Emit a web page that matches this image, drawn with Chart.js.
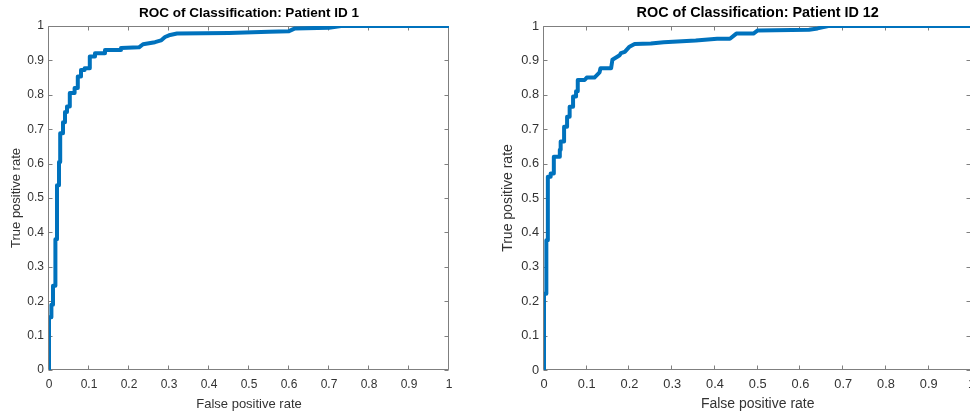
<!DOCTYPE html>
<html>
<head>
<meta charset="utf-8">
<script src="https://cdn.jsdelivr.net/npm/chart.js@4/dist/chart.umd.min.js"></script>
<style>
  html, body { margin: 0; padding: 0; background: #fff; overflow: hidden; width: 970px; height: 413px; }
  canvas { position: absolute; top: 0; }
  #roc1 { left: 0; }
  #roc2 { left: 490px; }
</style>
</head>
<body>
<canvas id="roc1" width="498" height="413"></canvas>
<canvas id="roc2" width="492" height="413"></canvas>
<script>
// ROC curve, patient 1 (vertices of the stepped curve)
const fpr1 = [0, 0, 0.006, 0.006, 0.01, 0.01, 0.016, 0.016, 0.02, 0.02, 0.025, 0.025, 0.028, 0.028,
  0.035, 0.035, 0.04, 0.04, 0.045, 0.045, 0.052, 0.052, 0.064, 0.064, 0.072, 0.072, 0.08, 0.08,
  0.089, 0.089, 0.102, 0.102, 0.115, 0.115, 0.14, 0.14, 0.18, 0.18, 0.225, 0.235, 0.25, 0.265,
  0.28, 0.29, 0.3, 0.32, 0.45, 0.55, 0.6, 0.615, 0.7, 0.73, 1];
const tpr1 = [0, 0.153, 0.153, 0.19, 0.19, 0.245, 0.245, 0.38, 0.38, 0.537, 0.537, 0.605, 0.605, 0.688,
  0.688, 0.72, 0.72, 0.75, 0.75, 0.766, 0.766, 0.805, 0.805, 0.82, 0.82, 0.853, 0.853, 0.872,
  0.872, 0.877, 0.877, 0.911, 0.911, 0.921, 0.921, 0.93, 0.93, 0.936, 0.938, 0.947, 0.95, 0.953,
  0.958, 0.968, 0.973, 0.978, 0.98, 0.983, 0.985, 0.993, 0.995, 1, 1];

// ROC curve, patient 12
const fpr2 = [0, 0, 0.0055, 0.0055, 0.009, 0.009, 0.0156, 0.0156, 0.023, 0.023, 0.037, 0.037, 0.039, 0.039,
  0.047, 0.047, 0.054, 0.054, 0.06, 0.06, 0.068, 0.068, 0.075, 0.075, 0.079, 0.079, 0.095, 0.1,
  0.118, 0.13, 0.132, 0.157, 0.16, 0.177, 0.18, 0.189, 0.2, 0.212, 0.25, 0.28, 0.355, 0.405,
  0.435, 0.45, 0.49, 0.5, 0.62, 0.64, 0.665, 1];
const tpr2 = [0, 0.222, 0.222, 0.377, 0.377, 0.562, 0.562, 0.571, 0.571, 0.62, 0.62, 0.64, 0.64, 0.664,
  0.664, 0.707, 0.707, 0.736, 0.736, 0.765, 0.765, 0.795, 0.795, 0.81, 0.81, 0.843, 0.843, 0.85,
  0.85, 0.865, 0.877, 0.877, 0.902, 0.915, 0.921, 0.925, 0.94, 0.948, 0.949, 0.953, 0.958, 0.963,
  0.963, 0.978, 0.978, 0.987, 0.989, 0.993, 1, 1];

const titles = ['ROC of Classification: Patient ID 1', 'ROC of Classification: Patient ID 12'];
const xLabel = 'False positive rate';
const yLabel = 'True positive rate';

const FONT = '"Liberation Sans", Arial, Helvetica, sans-serif';
const TEXT = '#333333';
const AXIS = '#7f7f7f';

// matlab style box with ticks pointing inwards
const boxTicks = {
  id: 'boxTicks',
  beforeDatasetsDraw(chart) {
    const { ctx, chartArea: a, scales: { x, y } } = chart;
    const L = Math.round(a.left) - 0.5, R = Math.round(a.right) - 0.5;
    const T = Math.round(a.top) + 0.5, B = Math.round(a.bottom) - 0.5;
    const len = 4;
    ctx.save();
    ctx.strokeStyle = AXIS;
    ctx.lineWidth = 1;
    ctx.beginPath();
    ctx.rect(L, T, R - L, B - T);
    x.ticks.forEach(t => {
      const px = Math.round(x.getPixelForValue(t.value)) - 0.5;
      ctx.moveTo(px, B); ctx.lineTo(px, B - len);
      ctx.moveTo(px, T); ctx.lineTo(px, T + len);
    });
    y.ticks.forEach(t => {
      const py = Math.round(y.getPixelForValue(t.value)) + 0.5;
      ctx.moveTo(L, py); ctx.lineTo(L + len, py);
      ctx.moveTo(R, py); ctx.lineTo(R - len, py);
    });
    ctx.stroke();
    ctx.restore();
  }
};

function rocChart(id, fpr, tpr, title, s) {
  const points = fpr.map((f, i) => ({ x: f, y: tpr[i] }));
  return new Chart(document.getElementById(id), {
    type: 'line',
    data: {
      datasets: [{
        data: points,
        borderColor: '#0072BD',
        borderWidth: 4,
        borderJoinStyle: 'round',
        pointRadius: 0,
        tension: 0,
        fill: false
      }]
    },
    options: {
      responsive: false,
      animation: false,
      layout: { padding: { left: 0, top: 0, bottom: 0, right: s.padRight } },
      plugins: {
        legend: { display: false },
        tooltip: { enabled: false },
        title: {
          display: true,
          text: title,
          fullSize: false,
          color: '#000',
          font: { family: FONT, size: s.title, weight: 'bold', lineHeight: 1.2 },
          padding: { top: 13 - s.title * 0.6, bottom: 13 - s.title * 0.6 }
        }
      },
      scales: {
        x: {
          type: 'linear',
          min: 0, max: 1,
          ticks: {
            stepSize: 0.1,
            padding: 7,
            maxRotation: 0,
            autoSkip: false,
            color: TEXT,
            font: { family: FONT, size: s.tick },
            callback: v => String(+v.toFixed(1))
          },
          grid: { display: false, drawTicks: false },
          border: { display: false },
          title: {
            display: true, text: xLabel, color: TEXT,
            font: { family: FONT, size: s.label, lineHeight: 1.2 },
            padding: { top: 0, bottom: 9 - s.label * 0.6 }
          },
          afterFit: sc => { sc.height = 43; }
        },
        y: {
          min: 0, max: 1,
          ticks: {
            stepSize: 0.1,
            padding: 5,
            autoSkip: false,
            color: TEXT,
            font: { family: FONT, size: s.tick },
            callback: v => String(+v.toFixed(1))
          },
          grid: { display: false, drawTicks: false },
          border: { display: false },
          title: {
            display: true, text: yLabel, color: TEXT,
            font: { family: FONT, size: s.label, lineHeight: 1.2 },
            padding: { top: s.yTitleX - s.label * 0.6, bottom: 0 }
          },
          afterFit: sc => { sc.width = s.yWidth; }
        }
      }
    },
    plugins: [boxTicks]
  });
}

rocChart('roc1', fpr1, tpr1, titles[0], { title: 13.5, tick: 12, label: 13, yWidth: 49, yTitleX: 16, padRight: 49 });
rocChart('roc2', fpr2, tpr2, titles[1], { title: 14.4, tick: 12.8, label: 14, yWidth: 54, yTitleX: 18, padRight: 10 });
</script>
</body>
</html>
